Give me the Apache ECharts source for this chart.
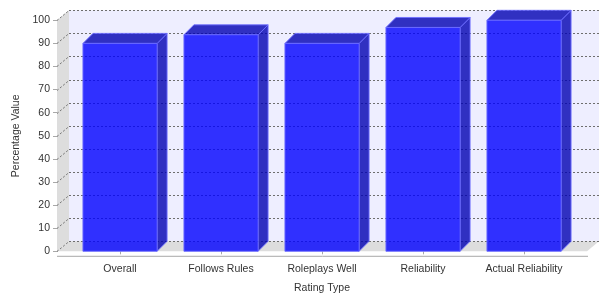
<!DOCTYPE html>
<html>
<head>
<meta charset="utf-8">
<script src="https://cdn.jsdelivr.net/npm/echarts@6/dist/echarts.min.js"></script>
<style>html,body{margin:0;padding:0;background:#fff;}#c{width:610px;height:300px;}</style>
</head>
<body>
<div id="c"></div>
<script>
var categories = ['Overall', 'Follows Rules', 'Roleplays Well', 'Reliability', 'Actual Reliability'];
var percentValues = [90, 93.7, 90, 96.9, 100];
var yTicks = [0, 10, 20, 30, 40, 50, 60, 70, 80, 90, 100];

var WALL_DX = 12, WALL_DY = 10;
var BAR_DX = 10, BAR_DY = 10;
var FONT = 'Liberation Sans, Arial, sans-serif';

var chart = echarts.init(document.getElementById('c'), null, {renderer: 'canvas'});

function walls(params, api) {
  var cs = params.coordSys;
  var left = cs.x - 12.5, right = cs.x + cs.width + 12.5;
  var top = cs.y, bottom = cs.y + cs.height;
  return {
    type: 'group',
    children: [
      {type: 'rect', shape: {x: left + WALL_DX, y: top - WALL_DY, width: right - left, height: bottom - top},
        style: {fill: '#EEEEFF', stroke: null}},
      {type: 'polygon', shape: {points: [[left, top], [left + WALL_DX, top - WALL_DY], [left + WALL_DX, bottom - WALL_DY], [left, bottom]]},
        style: {fill: '#DDDDDD', stroke: null}},
      {type: 'polygon', shape: {points: [[left, bottom], [left + WALL_DX, bottom - WALL_DY], [right + WALL_DX, bottom - WALL_DY], [right, bottom]]},
        style: {fill: '#DDDDDD', stroke: null}},
      {type: 'line', shape: {x1: left, y1: bottom + 5, x2: right + 1, y2: bottom + 5},
        style: {stroke: '#A8A8A8', lineWidth: 1}}
    ]
  };
}

function gridLines(params, api) {
  var cs = params.coordSys;
  var left = cs.x - 12.5, right = cs.x + cs.width + 12.5;
  var p = api.coord([0, api.value(0)]);
  var y = Math.round(p[1]) + 0.5;
  return {
    type: 'group',
    children: [
      {type: 'line', shape: {x1: left + WALL_DX, y1: y - WALL_DY, x2: right + WALL_DX, y2: y - WALL_DY},
        style: {stroke: '#6E6E6E', lineWidth: 1, lineDash: [2, 2]}},
      {type: 'line', shape: {x1: left, y1: y, x2: left + WALL_DX, y2: y - WALL_DY},
        style: {stroke: '#6E6E6E', lineWidth: 1, lineDash: [2, 2]}}
    ]
  };
}

function bars(params, api) {
  var idx = api.value(0);
  var v = api.value(1);
  var p0 = api.coord([idx, 0]);
  var p1 = api.coord([idx, v]);
  var band = api.size([1, 0])[0];
  var hw = band * 0.367;
  var l = p0[0] - hw, r = p0[0] + hw;
  var top = p1[1], bot = p0[1];
  var front = 'rgba(0,0,255,0.8)';
  var dark = 'rgba(0,0,178,0.8)';
  var edge = 'rgba(110,110,255,0.9)';
  return {
    type: 'group',
    children: [
      {type: 'polygon', shape: {points: [[r, top], [r + BAR_DX, top - BAR_DY], [r + BAR_DX, bot - BAR_DY], [r, bot]]},
        style: {fill: dark, stroke: edge, lineWidth: 1}},
      {type: 'polygon', shape: {points: [[l, top], [l + BAR_DX, top - BAR_DY], [r + BAR_DX, top - BAR_DY], [r, top]]},
        style: {fill: dark, stroke: edge, lineWidth: 1}},
      {type: 'rect', shape: {x: l, y: top, width: r - l, height: bot - top},
        style: {fill: front, stroke: edge, lineWidth: 1}}
    ]
  };
}

var option = {
  animation: false,
  backgroundColor: '#ffffff',
  grid: {left: 69.5, right: 35.5, top: 20.3, bottom: 48.7, containLabel: false},
  xAxis: {
    type: 'category',
    data: categories,
    offset: 5,
    axisLine: {show: false},
    axisTick: {show: true, alignWithLabel: true, length: 3, lineStyle: {color: '#A8A8A8'}},
    axisLabel: {color: '#333333', fontFamily: FONT, fontSize: 10.5, margin: 7, interval: 0},
    name: 'Rating Type',
    nameLocation: 'middle',
    nameGap: 26,
    nameTextStyle: {color: '#333333', fontFamily: FONT, fontSize: 10.5}
  },
  yAxis: {
    type: 'value',
    min: 0, max: 100, interval: 10,
    offset: 12.5,
    axisLine: {show: true, lineStyle: {color: '#A8A8A8'}},
    axisTick: {show: true, length: 4, lineStyle: {color: '#A8A8A8'}},
    axisLabel: {color: '#333333', fontFamily: FONT, fontSize: 10.5, margin: 7},
    splitLine: {show: false},
    name: 'Percentage Value',
    nameLocation: 'middle',
    nameRotate: 90,
    nameGap: 28,
    nameTextStyle: {color: '#333333', fontFamily: FONT, fontSize: 10.5}
  },
  series: [
    {type: 'custom', renderItem: walls, data: [[0]], z: 1, silent: true},
    {type: 'custom', renderItem: gridLines, data: yTicks.map(function (t) { return [t]; }), encode: {y: 0}, z: 2, silent: true},
    {type: 'custom', renderItem: bars, data: percentValues.map(function (v, i) { return [i, v]; }), encode: {x: 0, y: 1}, z: 3}
  ]
};
chart.setOption(option);
</script>
</body>
</html>
